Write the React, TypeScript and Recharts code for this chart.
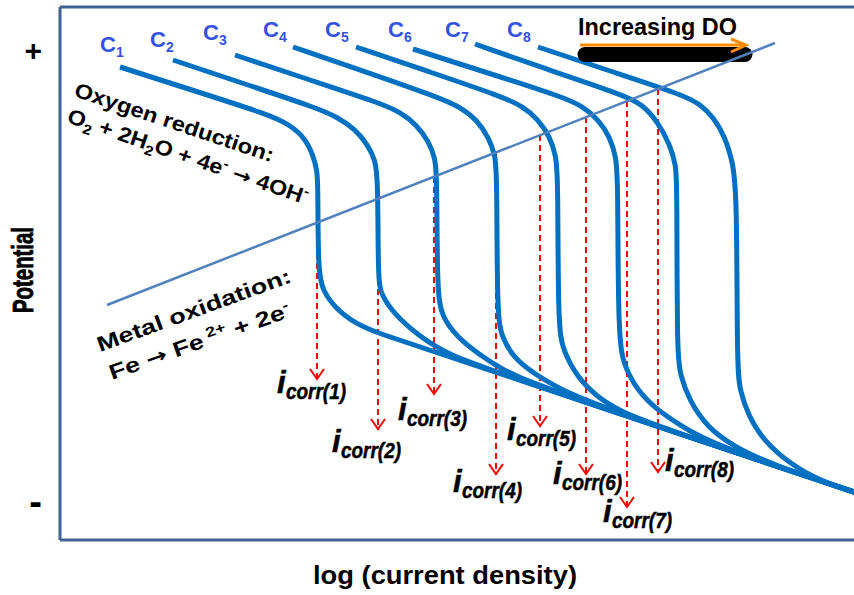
import React from "react";
import {
  LineChart,
  Line,
  XAxis,
  YAxis,
  ReferenceLine,
  ReferenceDot,
} from "recharts";

// x: log(current density), y: potential (both in arbitrary diagram units)
type Pt = [number, number];

const curveC1: Pt[] = [
  [6.0, 47.3], [13.5, 44.9], [21.0, 42.5], [23.0, 41.5], [24.5, 40.2], [25.3, 38.5],
  [25.7, 37.0], [25.8, 35.5], [25.8, 26.7], [26.3, 24.9], [27.6, 23.1], [29.6, 21.6],
  [32.0, 20.6], [37.0, 19.0], [80.0, 4.6],
];
const curveC2: Pt[] = [
  [11.3, 48.0], [18.5, 45.6], [25.7, 43.2], [27.7, 42.3], [29.5, 41.1], [30.8, 39.5],
  [31.5, 38.0], [31.8, 36.3], [31.8, 26.0], [32.1, 24.6], [33.3, 22.7], [36.0, 20.3],
  [38.7, 18.6], [44.0, 16.6], [80.0, 4.6],
];
const curveC3: Pt[] = [
  [17.5, 48.5], [24.7, 46.1], [32.0, 43.7], [34.0, 42.8], [35.7, 41.5], [36.9, 39.8],
  [37.5, 38.2], [37.7, 36.5], [37.7, 24.7], [38.2, 22.3], [39.7, 20.3], [42.0, 18.5],
  [44.0, 17.2], [47.0, 15.6], [80.0, 4.6],
];
const curveC4: Pt[] = [
  [23.3, 49.3], [30.6, 46.8], [38.0, 44.2], [40.0, 43.3], [41.7, 42.0], [42.9, 40.2],
  [43.5, 38.5], [43.7, 36.8], [43.7, 22.3], [44.2, 20.3], [45.3, 18.3], [47.3, 16.7],
  [49.5, 15.4], [53.0, 13.6], [80.0, 4.6],
];
const curveC5: Pt[] = [
  [29.6, 49.3], [37.0, 46.8], [44.3, 44.3], [46.2, 43.4], [47.8, 42.1], [49.0, 40.3],
  [49.6, 38.4], [49.8, 36.3], [49.8, 21.3], [50.3, 19.0], [51.7, 16.3], [53.7, 14.3],
  [56.0, 12.9], [59.0, 11.6], [80.0, 4.6],
];
const curveC6: Pt[] = [
  [35.3, 49.1], [42.8, 46.7], [50.3, 44.3], [52.2, 43.4], [53.8, 42.1], [55.0, 40.3],
  [55.6, 38.3], [55.8, 36.2], [55.8, 19.7], [56.5, 17.3], [57.7, 15.0], [59.7, 13.0],
  [62.0, 11.5], [65.0, 9.6], [80.0, 4.6],
];
const curveC7: Pt[] = [
  [41.5, 49.6], [48.9, 47.0], [56.3, 44.5], [58.2, 43.6], [59.8, 41.8], [61.0, 39.5],
  [61.6, 37.5], [61.7, 35.3], [61.7, 18.7], [62.0, 16.6], [62.9, 14.0], [64.7, 11.3],
  [67.3, 9.4], [71.0, 7.6], [80.0, 4.6],
];
const curveC8: Pt[] = [
  [47.8, 49.3], [55.0, 46.9], [62.3, 44.5], [64.0, 43.6], [65.4, 42.2], [66.5, 40.3],
  [67.2, 38.0], [67.7, 35.3], [67.7, 17.0], [68.0, 15.0], [68.8, 12.5], [70.3, 10.0],
  [73.0, 7.6], [76.0, 5.9], [80.0, 4.6],
];
const curves = [curveC1, curveC2, curveC3, curveC4, curveC5, curveC6, curveC7, curveC8];
const curveNames = ["1", "2", "3", "4", "5", "6", "7", "8"];

// straight line crossing the family of curves
const crossLine: Pt[] = [[4.7, 23.5], [71.5, 49.7]];

// i_corr drop lines: x, start potential, arrow tip potential
const icorrX = [25.7, 31.8, 37.4, 43.6, 48.0, 52.6, 56.7, 59.8];
const icorrTop = [31.7, 34.1, 36.3, 38.7, 40.5, 42.3, 43.9, 45.1];
const icorrTip = [16.0, 11.0, 14.5, 6.5, 11.3, 6.5, 3.2, 6.7];

// "Increasing DO" arrow
const doBar: Pt[] = [[52.5, 48.55], [68.5, 48.55]];
const doArrow: Pt[] = [[52.0, 49.5], [68.6, 49.5]];

const yTicks = [49.0, 3.85];
const yTickText = ["+", "-"];

// layout only (label anchors / offsets)
const cLabelAt: Pt[] = [
  [4.0, 48.8], [9.0, 49.3], [14.3, 50.0], [20.3, 50.3],
  [26.5, 50.3], [32.8, 50.3], [38.5, 50.3], [44.7, 50.3],
];
const icorrOffset: Pt[] = [
  [-40, 13], [-46, 22], [-36, 25], [-43, 17], [-33, 13], [-33, 9], [-24, 14], [7, -2],
];

const FONT = "'Liberation Sans', Arial, sans-serif";
const FRAME = "#3f6291";
const BLUE = "#0070c0";
const CROSS = "#4f81bd";
const RED = "#ff0000";
const CLABEL = "#3552e0";

const toData = (pts: Pt[]) => pts.map(([x, y]) => ({ x, y }));

const PotentialLabel = () => (
  <text
    x={33}
    y={270}
    transform="rotate(-90 33 270)"
    textAnchor="middle"
    fontFamily={FONT}
    fontWeight="bold"
    fontSize={29}
    textLength={86}
    lengthAdjust="spacingAndGlyphs"
    fill="#000"
    stroke="#000"
    strokeWidth={0.8}
  >
    Potential
  </text>
);

const XLabel = () => (
  <text
    x={445}
    y={584}
    textAnchor="middle"
    fontFamily={FONT}
    fontWeight="bold"
    fontSize={25}
    textLength={264}
    lengthAdjust="spacingAndGlyphs"
    fill="#000"
  >
    log (current density)
  </text>
);

const YTick = (props: any) => {
  const { y, index } = props;
  const big = index === 1;
  return (
    <text
      x={42}
      y={y}
      textAnchor="end"
      dominantBaseline="central"
      fontFamily={FONT}
      fontWeight="bold"
      fontSize={big ? 38 : 30}
      fill="#000"
    >
      {yTickText[index]}
    </text>
  );
};

const Arrow = () => (
  <tspan fontFamily="'DejaVu Sans', sans-serif" fontSize={20}>
    →
  </tspan>
);

const rotText = (
  angle: number,
  len: number,
  children: React.ReactNode
) => (p: any) => (
  <text
    x={p.cx}
    y={p.cy}
    transform={`rotate(${angle} ${p.cx} ${p.cy})`}
    fontFamily={FONT}
    fontWeight="bold"
    fontSize={21}
    textLength={len}
    lengthAdjust="spacingAndGlyphs"
    fill="#000"
  >
    {children}
  </text>
);

const App: React.FC = () => {
  return (
    <div
      style={{
        position: "fixed",
        left: 0,
        top: 0,
        width: 854,
        height: 595,
        overflow: "hidden",
        background: "#fff",
      }}
    >
      <LineChart
        width={880}
        height={595}
        margin={{ top: 7, right: 20, bottom: 0, left: 0 }}
      >
        <XAxis
          type="number"
          dataKey="x"
          domain={[0, 80]}
          allowDataOverflow
          tick={false}
          tickLine={false}
          height={55}
          axisLine={{ stroke: FRAME, strokeWidth: 3 }}
          label={<XLabel />}
        />
        <YAxis
          type="number"
          domain={[0, 53.3]}
          allowDataOverflow
          ticks={yTicks}
          interval={0}
          tick={<YTick />}
          tickLine={false}
          width={60}
          axisLine={{ stroke: FRAME, strokeWidth: 3 }}
          label={<PotentialLabel />}
        />
        <ReferenceLine y={53.3} stroke={FRAME} strokeWidth={3} />

        {icorrX.map((x, i) => (
          <Line
            key={`ic${i}`}
            data={[
              { x, y: icorrTop[i] },
              { x, y: icorrTip[i] },
            ]}
            dataKey="y"
            type="linear"
            stroke={RED}
            strokeWidth={2}
            strokeDasharray="6 4"
            isAnimationActive={false}
            activeDot={false}
            dot={(p: any) => {
              if (p.index !== 1) return <g key={`icd${i}-${p.index}`} />;
              const [dx, dy] = icorrOffset[i];
              const lx = p.cx + dx;
              const ly = p.cy + dy;
              return (
                <g key={`icd${i}-${p.index}`}>
                  <path
                    d={`M${p.cx - 7},${p.cy - 11} L${p.cx},${p.cy - 1} L${p.cx + 7},${p.cy - 11}`}
                    stroke={RED}
                    strokeWidth={2}
                    fill="none"
                  />
                  <text
                    x={lx}
                    y={ly}
                    fontFamily={FONT}
                    fontWeight="bold"
                    fontStyle="italic"
                    fontSize={31}
                    fill="#000"
                    stroke="#000"
                    strokeWidth={0.5}
                  >
                    i
                  </text>
                  <text
                    x={lx + 9}
                    y={ly + 6}
                    fontFamily={FONT}
                    fontWeight="bold"
                    fontStyle="italic"
                    fontSize={22}
                    textLength={60}
                    lengthAdjust="spacingAndGlyphs"
                    fill="#000"
                    stroke="#000"
                    strokeWidth={0.5}
                  >
                    {`corr(${i + 1})`}
                  </text>
                </g>
              );
            }}
          />
        ))}

        {curves.map((c, i) => (
          <Line
            key={`c${i}`}
            data={toData(c)}
            dataKey="y"
            type="basis"
            stroke={BLUE}
            strokeWidth={5}
            dot={false}
            activeDot={false}
            isAnimationActive={false}
          />
        ))}

        <Line
          data={toData(doBar)}
          dataKey="y"
          type="linear"
          stroke="#000"
          strokeWidth={15}
          strokeLinecap="round"
          dot={false}
          activeDot={false}
          isAnimationActive={false}
        />
        <Line
          data={toData(doArrow)}
          dataKey="y"
          type="linear"
          stroke="#ff8c00"
          strokeWidth={3}
          activeDot={false}
          isAnimationActive={false}
          dot={(p: any) =>
            p.index === 1 ? (
              <path
                key="doh"
                d={`M${p.cx - 15},${p.cy - 6} L${p.cx},${p.cy} L${p.cx - 15},${p.cy + 7}`}
                stroke="#ff8c00"
                strokeWidth={3}
                fill="none"
              />
            ) : (
              <g key={`dod${p.index}`} />
            )
          }
        />

        <Line
          data={toData(crossLine)}
          dataKey="y"
          type="linear"
          stroke={CROSS}
          strokeWidth={2.5}
          dot={false}
          activeDot={false}
          isAnimationActive={false}
        />

        {cLabelAt.map(([x, y], i) => (
          <ReferenceDot
            key={`cl${i}`}
            x={x}
            y={y}
            r={0}
            ifOverflow="visible"
            shape={(p: any) => (
              <text x={p.cx} y={p.cy} fontFamily={FONT} fontWeight="bold" fill={CLABEL}>
                <tspan fontSize={22}>C</tspan>
                <tspan fontSize={14} dy={5}>
                  {curveNames[i]}
                </tspan>
              </text>
            )}
          />
        ))}

        <ReferenceDot
          x={51.8}
          y={50.5}
          r={0}
          ifOverflow="visible"
          shape={(p: any) => (
            <text
              x={p.cx}
              y={p.cy}
              fontFamily={FONT}
              fontWeight="bold"
              fontSize={23}
              textLength={159}
              lengthAdjust="spacingAndGlyphs"
              fill="#000"
            >
              Increasing DO
            </text>
          )}
        />

        <ReferenceDot
          x={1.3}
          y={44.4}
          r={0}
          ifOverflow="visible"
          shape={rotText(18.5, 209, "Oxygen reduction:")}
        />
        <ReferenceDot
          x={0.6}
          y={41.8}
          r={0}
          ifOverflow="visible"
          shape={rotText(
            19,
            253,
            <>
              O<tspan fontSize={14} dy={5}>2</tspan>
              <tspan dy={-5}> + 2H</tspan>
              <tspan fontSize={14} dy={5}>2</tspan>
              <tspan dy={-5}>O + 4e</tspan>
              <tspan fontSize={14} dy={-8}>-</tspan>
              <tspan dy={8}> </tspan>
              <Arrow />
              <tspan> 4OH</tspan>
              <tspan fontSize={14} dy={-8}>-</tspan>
            </>
          )}
        />
        <ReferenceDot
          x={4.0}
          y={18.8}
          r={0}
          ifOverflow="visible"
          shape={rotText(-20, 205, "Metal oxidation:")}
        />
        <ReferenceDot
          x={5.2}
          y={16.0}
          r={0}
          ifOverflow="visible"
          shape={rotText(
            -19.5,
            191,
            <>
              Fe <Arrow /> Fe
              <tspan fontSize={14} dy={-8}> 2+</tspan>
              <tspan dy={8}> + 2e</tspan>
              <tspan fontSize={14} dy={-8}>-</tspan>
            </>
          )}
        />
      </LineChart>
    </div>
  );
};

export default App;
